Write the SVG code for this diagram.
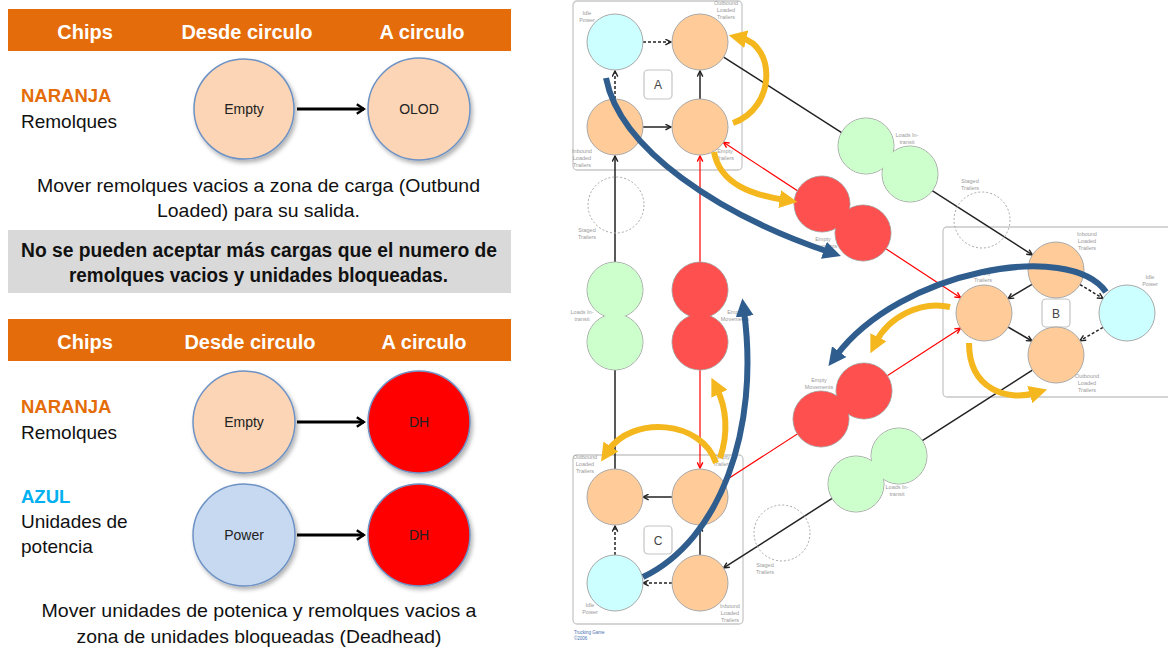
<svg xmlns="http://www.w3.org/2000/svg" width="1168" height="653" viewBox="0 0 1168 653">
<style>
  .hdr{fill:#E46C0A}
  .ht{font-family:"Liberation Sans",Arial,sans-serif;font-weight:bold;font-size:20px;fill:#fff;text-anchor:middle}
  .tx{font-family:"Liberation Sans",Arial,sans-serif;font-size:19px;fill:#111}
  .txc{font-family:"Liberation Sans",Arial,sans-serif;font-size:18.5px;fill:#111;text-anchor:middle}
  .txb{font-family:"Liberation Sans",Arial,sans-serif;font-size:19.5px;font-weight:bold;fill:#111;text-anchor:middle}
  .or{font-family:"Liberation Sans",Arial,sans-serif;font-size:18.5px;font-weight:bold;fill:#E46C0A}
  .az{font-family:"Liberation Sans",Arial,sans-serif;font-size:18.5px;font-weight:bold;fill:#00B0F0}
  .chip{stroke:#6E92C4;stroke-width:1.5;filter:url(#sh)}
  .cl{font-family:"Liberation Sans",Arial,sans-serif;font-size:14px;fill:#222;text-anchor:middle}
  .la{stroke:#000;stroke-width:3;fill:none;marker-end:url(#chev)}
  .box{fill:#fff;stroke:#c8c8c8;stroke-width:1.3}
  .lbox{fill:#fff;stroke:#c4c4c4;stroke-width:1.2}
  .lt{font-family:"Liberation Sans",Arial,sans-serif;font-size:12px;fill:#444;text-anchor:middle}
  .n{stroke:#a8a8a8;stroke-width:1}
  .pe{fill:#FFCC99}
  .cy{fill:#CCFFFF}
  .gr{fill:#CCFFCC}
  .rd{fill:#FF5050}
  .nf{stroke:none}
  .st{fill:none;stroke:#a8a8a8;stroke-width:1;stroke-dasharray:2 2}
  .sm{font-family:"Liberation Sans",Arial,sans-serif;font-size:5.5px;fill:#9a9a9a;text-anchor:middle}
  .bl{stroke:#222;stroke-width:1.5;fill:none}
  .rl{stroke:#FF0000;stroke-width:1.2;fill:none}
  .ia{stroke:#222;stroke-width:1.5;fill:none;marker-end:url(#ak)}
  .da{stroke:#222;stroke-width:1.5;fill:none;stroke-dasharray:3 2;marker-end:url(#ak)}
  .yb{stroke:#F4B71E;stroke-width:6;fill:none;marker-end:url(#yh)}
  .bb{stroke:#2F5D8E;stroke-width:6;fill:none;marker-end:url(#bh)}
</style>
<defs>
  <filter id="sh" x="-20%" y="-20%" width="150%" height="150%">
    <feDropShadow dx="2" dy="3" stdDeviation="2" flood-color="#000" flood-opacity="0.3"/>
  </filter>
  <marker id="chev" viewBox="0 0 10 10" refX="8" refY="5" markerWidth="12" markerHeight="12" markerUnits="userSpaceOnUse" orient="auto">
    <path d="M2,1 L8,5 L2,9" fill="none" stroke="#000" stroke-width="2"/>
  </marker>
  <marker id="ak" viewBox="0 0 10 10" refX="9" refY="5" markerWidth="7" markerHeight="7" markerUnits="userSpaceOnUse" orient="auto-start-reverse">
    <path d="M1,1 L9,5 L1,9" fill="none" stroke="#222" stroke-width="2"/>
  </marker>
  <marker id="akr" viewBox="0 0 10 10" refX="9" refY="5" markerWidth="7" markerHeight="7" markerUnits="userSpaceOnUse" orient="auto-start-reverse">
    <path d="M1,1 L9,5 L1,9" fill="none" stroke="#FF0000" stroke-width="2"/>
  </marker>
  <marker id="yh" viewBox="0 0 10 10" refX="3" refY="5" markerWidth="18" markerHeight="18" markerUnits="userSpaceOnUse" orient="auto">
    <path d="M0,0 L10,5 L0,10 z" fill="#F4B71E"/>
  </marker>
  <marker id="bh" viewBox="0 0 10 10" refX="3" refY="5" markerWidth="18" markerHeight="18" markerUnits="userSpaceOnUse" orient="auto">
    <path d="M0,0 L10,5 L0,10 z" fill="#2F5D8E"/>
  </marker>
</defs>
<rect width="1168" height="653" fill="#fff"/>

<!-- Upper table: empty trailers to outbound loaded -->
<g id="table-olod">
  <rect class="hdr" x="8" y="9" width="503" height="42"/>
  <text class="ht" x="85" y="39">Chips</text>
  <text class="ht" x="247" y="39">Desde circulo</text>
  <text class="ht" x="422" y="39">A circulo</text>
  <text class="or" x="21" y="102">NARANJA</text>
  <text class="tx" x="21" y="128">Remolques</text>
</g>
<g id="chip-empty-1">
  <circle class="chip" cx="244" cy="109" r="50" fill="#FBD5B5"/>
  <text class="cl" x="244" y="114">Empty</text>
</g>
<g id="chip-olod">
  <circle class="chip" cx="419" cy="109" r="51" fill="#FBD5B5"/>
  <text class="cl" x="419" y="114">OLOD</text>
</g>
<g id="note-olod">
  <text class="txc" x="258.5" y="192" textLength="443" lengthAdjust="spacingAndGlyphs">Mover remolques vacios a zona de carga (Outbund</text>
  <text class="txc" x="258.5" y="217" textLength="203" lengthAdjust="spacingAndGlyphs">Loaded) para su salida.</text>
</g>
<g id="warning">
  <rect x="8" y="230" width="503" height="63" fill="#D9D9D9"/>
  <text class="txb" x="259" y="257" textLength="476" lengthAdjust="spacingAndGlyphs">No se pueden aceptar más cargas que el numero de</text>
  <text class="txb" x="258.5" y="282" textLength="379" lengthAdjust="spacingAndGlyphs">remolques vacios y unidades bloqueadas.</text>
</g>

<!-- Lower table: deadhead moves -->
<g id="table-dh">
  <rect class="hdr" x="8" y="319" width="503" height="42"/>
  <text class="ht" x="85" y="349">Chips</text>
  <text class="ht" x="250" y="349">Desde circulo</text>
  <text class="ht" x="424" y="349">A circulo</text>
  <text class="or" x="21" y="413">NARANJA</text>
  <text class="tx" x="21" y="439">Remolques</text>
  <text class="az" x="21" y="503">AZUL</text>
  <text class="tx" x="21" y="528">Unidades de</text>
  <text class="tx" x="21" y="553">potencia</text>
</g>
<g id="chip-empty-2">
  <circle class="chip" cx="244" cy="422" r="51" fill="#FBD5B5"/>
  <text class="cl" x="244" y="427">Empty</text>
</g>
<g id="chip-dh-1">
  <circle class="chip" cx="419" cy="422" r="51" fill="#FF0000"/>
  <text class="cl" x="419" y="427">DH</text>
</g>
<g id="chip-power">
  <circle class="chip" cx="244" cy="535" r="51" fill="#C6D9F1"/>
  <text class="cl" x="244" y="540">Power</text>
</g>
<g id="chip-dh-2">
  <circle class="chip" cx="419" cy="535" r="51" fill="#FF0000"/>
  <text class="cl" x="419" y="540">DH</text>
</g>
<g id="note-dh">
  <text class="txc" x="259" y="617" textLength="435" lengthAdjust="spacingAndGlyphs">Mover unidades de potenica y remolques vacios a</text>
  <text class="txc" x="259" y="643" textLength="365" lengthAdjust="spacingAndGlyphs">zona de unidades bloqueadas (Deadhead)</text>
</g>
<g id="chip-arrows">
  <line class="la" x1="297" y1="109" x2="364" y2="109"/>
  <line class="la" x1="297" y1="422" x2="364" y2="422"/>
  <line class="la" x1="297" y1="535" x2="364" y2="535"/>
</g>

<!-- Site frames -->
<g id="site-a-frame">
  <rect class="box" x="573" y="1" width="169" height="169" rx="4"/>
  <rect class="lbox" x="644" y="70" width="28" height="29" rx="4"/>
  <text class="lt" x="658" y="89">A</text>
</g>
<g id="site-b-frame">
  <rect class="box" x="943" y="227" width="240" height="170" rx="4"/>
  <rect class="lbox" x="1042" y="299" width="28" height="28" rx="4"/>
  <text class="lt" x="1056" y="317.5">B</text>
</g>
<g id="site-c-frame">
  <rect class="box" x="573" y="455" width="170" height="169" rx="4"/>
  <rect class="lbox" x="644" y="526" width="28" height="28" rx="4"/>
  <text class="lt" x="658" y="544.5">C</text>
</g>

<!-- Connectors between sites and inside sites -->
<g id="connectors">
  <line class="bl" x1="723.6" y1="57.1" x2="1032.4" y2="254.9" marker-end="url(#ak)"/>
  <line class="bl" x1="1032.4" y1="370.1" x2="723.6" y2="567.9" marker-end="url(#ak)"/>
  <line class="bl" x1="615" y1="469" x2="615" y2="156" marker-end="url(#ak)"/>
  <line class="rl" x1="723.4" y1="142.3" x2="960.6" y2="297.7" marker-start="url(#akr)" marker-end="url(#akr)"/>
  <line class="rl" x1="723.5" y1="481.8" x2="960.5" y2="328.2" marker-end="url(#akr)"/>
  <line class="rl" x1="700" y1="156" x2="700" y2="468" marker-start="url(#akr)" marker-end="url(#akr)"/>
  <!-- site A -->
  <line class="da" x1="643" y1="42" x2="671" y2="42"/>
  <line class="ia" x1="643" y1="127" x2="671" y2="127"/>
  <line class="ia" x1="700" y1="99" x2="700" y2="71"/>
  <line class="da" x1="615" y1="99" x2="615" y2="71"/>
  <!-- site B -->
  <line class="ia" x1="1032" y1="284.4" x2="1008" y2="298.6"/>
  <line class="ia" x1="1008" y1="327" x2="1032" y2="341"/>
  <line class="da" x1="1080" y1="284.5" x2="1103" y2="298.5"/>
  <line class="da" x1="1103" y1="327.3" x2="1080" y2="340.7"/>
  <!-- site C -->
  <line class="ia" x1="672" y1="497" x2="643" y2="497"/>
  <line class="da" x1="615" y1="555" x2="615" y2="526"/>
  <line class="da" x1="672" y1="583" x2="643" y2="583"/>
  <line class="ia" x1="700" y1="555" x2="700" y2="526"/>
</g>

<!-- Staged trailer areas -->
<g id="staged-ac">
  <circle class="st" cx="616" cy="205" r="28"/>
  <text class="sm" x="587" y="232">Staged</text><text class="sm" x="587" y="239">Trailers</text>
</g>
<g id="staged-ab">
  <circle class="st" cx="982" cy="220" r="28"/>
  <text class="sm" x="970" y="183">Staged</text><text class="sm" x="970" y="190">Trailers</text>
</g>
<g id="staged-bc">
  <circle class="st" cx="782" cy="533" r="28"/>
  <text class="sm" x="765" y="567">Staged</text><text class="sm" x="765" y="574">Trailers</text>
</g>

<!-- Site A nodes -->
<g id="a-idle">
  <circle class="n cy" cx="615" cy="42" r="28"/>
  <text class="sm" x="587" y="15">Idle</text><text class="sm" x="587" y="22">Power</text>
</g>
<g id="a-outbound">
  <circle class="n pe" cx="700" cy="42" r="28"/>
  <text class="sm" x="726" y="5">Outbound</text><text class="sm" x="726" y="12">Loaded</text><text class="sm" x="726" y="19">Trailers</text>
</g>
<g id="a-inbound">
  <circle class="n pe" cx="615" cy="127" r="28"/>
  <text class="sm" x="582" y="153">Inbound</text><text class="sm" x="582" y="160">Loaded</text><text class="sm" x="582" y="167">Trailers</text>
</g>
<g id="a-empty">
  <circle class="n pe" cx="700" cy="127" r="28"/>
  <text class="sm" x="725" y="153">Empty</text><text class="sm" x="725" y="160">Trailers</text>
</g>

<!-- Site B nodes -->
<g id="b-inbound">
  <circle class="n pe" cx="1056" cy="270" r="28"/>
  <text class="sm" x="1087" y="236">Inbound</text><text class="sm" x="1087" y="243">Loaded</text><text class="sm" x="1087" y="250">Trailers</text>
</g>
<g id="b-empty">
  <circle class="n pe" cx="984" cy="313" r="28"/>
  <text class="sm" x="983" y="275">Empty</text><text class="sm" x="983" y="282">Trailers</text>
</g>
<g id="b-outbound">
  <circle class="n pe" cx="1056" cy="355" r="28"/>
  <text class="sm" x="1087" y="378">Outbound</text><text class="sm" x="1087" y="385">Loaded</text><text class="sm" x="1087" y="392">Trailers</text>
</g>
<g id="b-idle">
  <circle class="n cy" cx="1127" cy="313" r="28"/>
  <text class="sm" x="1150" y="279">Idle</text><text class="sm" x="1150" y="286">Power</text>
</g>

<!-- Site C nodes -->
<g id="c-outbound">
  <circle class="n pe" cx="615" cy="497" r="28"/>
  <text class="sm" x="585" y="459">Outbound</text><text class="sm" x="585" y="466">Loaded</text><text class="sm" x="585" y="473">Trailers</text>
</g>
<g id="c-empty">
  <circle class="n pe" cx="700" cy="497" r="28"/>
  <text class="sm" x="722" y="459">Empty</text><text class="sm" x="722" y="466">Trailers</text>
</g>
<g id="c-idle">
  <circle class="n cy" cx="615" cy="583" r="28"/>
  <text class="sm" x="590" y="607">Idle</text><text class="sm" x="590" y="614">Power</text>
</g>
<g id="c-inbound">
  <circle class="n pe" cx="700" cy="583" r="28"/>
  <text class="sm" x="730" y="608">Inbound</text><text class="sm" x="730" y="615">Loaded</text><text class="sm" x="730" y="622">Trailers</text>
</g>

<!-- In-transit and empty-movement pipelines: outlined pair, then fills on top so only the outer edge shows -->
<g id="transit-ab">
  <circle class="n gr" cx="866" cy="146" r="28"/>
  <circle class="n gr" cx="910" cy="174" r="28"/>
  <circle class="gr nf" cx="866" cy="146" r="27.5"/>
  <circle class="gr nf" cx="910" cy="174" r="27.5"/>
  <text class="sm" x="907" y="137">Loads In-</text><text class="sm" x="907" y="144">transit</text>
</g>
<g id="empty-ab">
  <circle class="n rd" cx="822" cy="204" r="28"/>
  <circle class="n rd" cx="863" cy="233" r="28"/>
  <circle class="rd nf" cx="822" cy="204" r="27.5"/>
  <circle class="rd nf" cx="863" cy="233" r="27.5"/>
  <text class="sm" x="823" y="241">Empty</text><text class="sm" x="823" y="248">Movements</text>
</g>
<g id="transit-ca">
  <circle class="n gr" cx="615" cy="290" r="28"/>
  <circle class="n gr" cx="615" cy="342" r="28"/>
  <circle class="gr nf" cx="615" cy="290" r="27.5"/>
  <circle class="gr nf" cx="615" cy="342" r="27.5"/>
  <text class="sm" x="582" y="314">Loads In-</text><text class="sm" x="582" y="321">transit</text>
</g>
<g id="empty-ac">
  <circle class="n rd" cx="700" cy="290" r="28"/>
  <circle class="n rd" cx="700" cy="342" r="28"/>
  <circle class="rd nf" cx="700" cy="290" r="27.5"/>
  <circle class="rd nf" cx="700" cy="342" r="27.5"/>
  <text class="sm" x="735" y="314">Empty</text><text class="sm" x="735" y="321">Movements</text>
</g>
<g id="empty-bc">
  <circle class="n rd" cx="864" cy="391" r="28"/>
  <circle class="n rd" cx="821" cy="419" r="28"/>
  <circle class="rd nf" cx="864" cy="391" r="27.5"/>
  <circle class="rd nf" cx="821" cy="419" r="27.5"/>
  <text class="sm" x="819" y="382">Empty</text><text class="sm" x="819" y="389">Movements</text>
</g>
<g id="transit-bc">
  <circle class="n gr" cx="899" cy="456" r="28"/>
  <circle class="n gr" cx="856" cy="484" r="28"/>
  <circle class="gr nf" cx="899" cy="456" r="27.5"/>
  <circle class="gr nf" cx="856" cy="484" r="27.5"/>
  <text class="sm" x="897" y="489">Loads In-</text><text class="sm" x="897" y="496">transit</text>
</g>

<!-- Trailer moves (yellow) and power moves (blue) -->
<g id="flow-arrows">
  <path class="yb" d="M733,123 C776,108 776,46 741,38"/>
  <path class="yb" d="M714,152 C720,184 752,195 785,200"/>
  <path class="yb" d="M969,343 C969,390 1008,401 1035,393"/>
  <path class="yb" d="M950,307 C920,300 888,318 876,342"/>
  <path class="yb" d="M716,463 C702,420 632,415 608,451"/>
  <path class="yb" d="M720,458 C729,432 726,407 717,389"/>
  <path class="bb" d="M606,78 C620,150 720,215 829,252"/>
  <path class="bb" d="M1106,292 C1070,240 900,270 836,356"/>
  <path class="bb" d="M643,577 C720,540 760,430 744,311"/>
</g>

<g id="credit">
  <text x="574" y="634" font-family="Liberation Sans, Arial, sans-serif" font-size="4.5" fill="#4a6fb0">Trucking Game</text>
  <text x="574" y="640" font-family="Liberation Sans, Arial, sans-serif" font-size="4.5" fill="#4a6fb0">©2006</text>
</g>
</svg>
